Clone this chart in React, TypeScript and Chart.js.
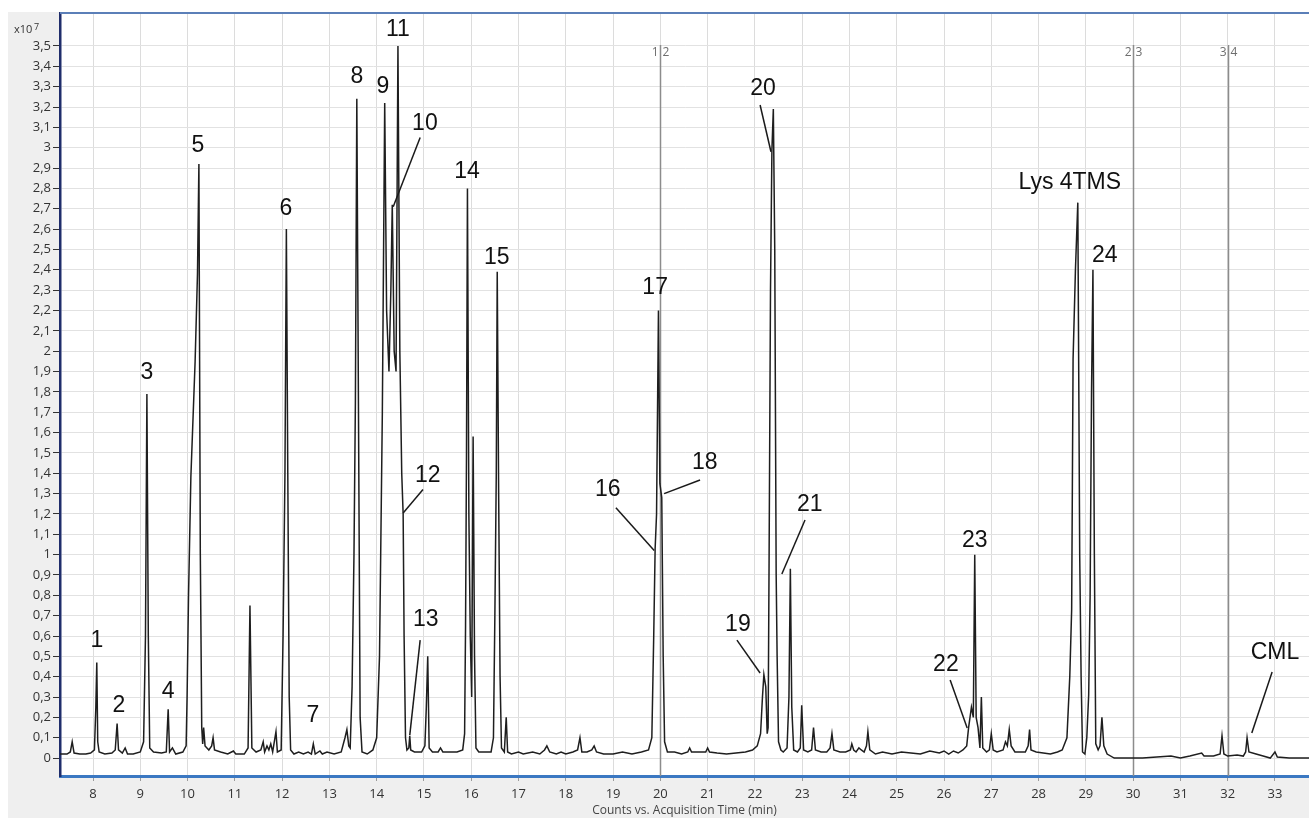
import React, { useEffect, useRef } from 'react';
import { Chart, registerables } from 'chart.js';

Chart.register(...registerables);

// Acquisition time (min)
const retentionTime = [
  7.30, 7.45, 7.52, 7.56, 7.60, 7.72, 7.85, 7.95, 8.03, 8.06, 8.08, 8.10, 8.13, 8.25, 8.40, 8.47, 8.51, 8.54, 8.62, 8.68,
  8.73, 8.85, 9.00, 9.07, 9.11, 9.14, 9.17, 9.20, 9.28, 9.45, 9.55, 9.59, 9.62, 9.68, 9.75, 9.90, 9.97, 9.99, 10.02, 10.07,
  10.16, 10.21, 10.24, 10.27, 10.30, 10.32, 10.34, 10.37, 10.45, 10.51, 10.54, 10.57, 10.70, 10.85, 10.93, 10.97, 11.02, 11.20, 11.28, 11.32,
  11.36, 11.45, 11.55, 11.60, 11.63, 11.68, 11.72, 11.76, 11.80, 11.87, 11.90, 11.98, 12.02, 12.06, 12.09, 12.12, 12.15, 12.18, 12.25, 12.35,
  12.45, 12.55, 12.62, 12.66, 12.70, 12.80, 12.85, 12.95, 13.10, 13.25, 13.33, 13.37, 13.41, 13.44, 13.48, 13.52, 13.55, 13.58, 13.62, 13.65,
  13.69, 13.80, 13.92, 14.00, 14.06, 14.12, 14.17, 14.21, 14.26, 14.30, 14.33, 14.37, 14.41, 14.45, 14.49, 14.53, 14.56, 14.58, 14.61, 14.64,
  14.68, 14.70, 14.72, 14.80, 14.95, 15.02, 15.05, 15.08, 15.11, 15.18, 15.30, 15.35, 15.40, 15.55, 15.70, 15.82, 15.86, 15.88, 15.90, 15.92,
  15.95, 15.98, 16.01, 16.04, 16.07, 16.10, 16.16, 16.30, 16.42, 16.47, 16.50, 16.53, 16.55, 16.58, 16.61, 16.64, 16.70, 16.74, 16.77, 16.85,
  17.00, 17.10, 17.30, 17.45, 17.55, 17.60, 17.66, 17.80, 17.90, 18.00, 18.15, 18.25, 18.30, 18.34, 18.45, 18.55, 18.60, 18.65, 18.80, 19.00,
  19.20, 19.40, 19.60, 19.75, 19.82, 19.86, 19.89, 19.92, 19.96, 19.99, 20.03, 20.06, 20.09, 20.15, 20.30, 20.45, 20.58, 20.62, 20.66, 20.80,
  20.96, 21.00, 21.04, 21.20, 21.40, 21.60, 21.80, 21.95, 22.05, 22.12, 22.16, 22.19, 22.23, 22.26, 22.28, 22.30, 22.33, 22.36, 22.39, 22.42,
  22.45, 22.47, 22.50, 22.55, 22.60, 22.68, 22.72, 22.75, 22.78, 22.82, 22.90, 22.96, 22.99, 23.03, 23.12, 23.20, 23.24, 23.28, 23.40, 23.52,
  23.59, 23.63, 23.67, 23.80, 23.92, 24.02, 24.05, 24.09, 24.14, 24.20, 24.25, 24.31, 24.36, 24.39, 24.43, 24.55, 24.70, 24.90, 25.10, 25.30,
  25.50, 25.70, 25.90, 26.00, 26.10, 26.20, 26.30, 26.40, 26.48, 26.52, 26.58, 26.62, 26.65, 26.68, 26.72, 26.76, 26.79, 26.82, 26.90, 26.96,
  27.00, 27.04, 27.12, 27.25, 27.30, 27.34, 27.38, 27.42, 27.50, 27.62, 27.72, 27.78, 27.81, 27.84, 27.95, 28.10, 28.25, 28.40, 28.50, 28.60,
  28.66, 28.70, 28.73, 28.78, 28.83, 28.87, 28.90, 28.93, 28.98, 29.02, 29.06, 29.09, 29.12, 29.15, 29.18, 29.21, 29.26, 29.30, 29.34, 29.38,
  29.45, 29.60, 29.90, 30.20, 30.50, 30.80, 31.00, 31.20, 31.45, 31.50, 31.70, 31.84, 31.88, 31.92, 32.00, 32.20, 32.33, 32.38, 32.41, 32.45,
  32.60, 32.75, 32.90, 33.00, 33.05, 33.30, 33.72,
];

// Counts (x10^7)
const signal = [
  0.02, 0.02, 0.03, 0.08, 0.025, 0.02, 0.02, 0.025, 0.04, 0.25, 0.47, 0.08, 0.03, 0.02, 0.025, 0.04, 0.17, 0.04, 0.025, 0.05,
  0.02, 0.02, 0.03, 0.08, 0.6, 1.79, 0.6, 0.05, 0.03, 0.025, 0.03, 0.24, 0.03, 0.05, 0.02, 0.03, 0.06, 0.3, 0.79, 1.38,
  1.95, 2.38, 2.92, 1.0, 0.15, 0.07, 0.15, 0.06, 0.04, 0.06, 0.1, 0.04, 0.03, 0.02, 0.03, 0.035, 0.02, 0.02, 0.05, 0.75,
  0.05, 0.03, 0.04, 0.08, 0.03, 0.06, 0.04, 0.07, 0.03, 0.13, 0.03, 0.04, 0.6, 1.4, 2.6, 1.4, 0.3, 0.04, 0.02, 0.03,
  0.02, 0.03, 0.02, 0.07, 0.02, 0.035, 0.02, 0.03, 0.02, 0.03, 0.1, 0.14, 0.06, 0.05, 0.35, 1.0, 1.75, 3.24, 1.5, 0.2,
  0.03, 0.02, 0.04, 0.1, 0.5, 1.7, 3.22, 2.2, 1.9, 2.3, 2.72, 2.0, 1.9, 3.5, 2.0, 1.4, 1.2, 0.6, 0.1, 0.04,
  0.05, 0.11, 0.04, 0.03, 0.03, 0.06, 0.25, 0.5, 0.05, 0.03, 0.03, 0.05, 0.03, 0.03, 0.03, 0.04, 0.12, 0.65, 1.5, 2.8,
  1.2, 0.6, 0.3, 1.58, 0.5, 0.05, 0.03, 0.03, 0.03, 0.1, 0.7, 1.4, 2.39, 1.3, 0.4, 0.05, 0.03, 0.2, 0.03, 0.02,
  0.03, 0.02, 0.03, 0.02, 0.04, 0.06, 0.03, 0.02, 0.03, 0.02, 0.03, 0.04, 0.1, 0.03, 0.03, 0.04, 0.06, 0.03, 0.02, 0.02,
  0.03, 0.02, 0.03, 0.04, 0.1, 0.6, 1.03, 1.2, 2.2, 1.35, 1.28, 0.5, 0.08, 0.03, 0.03, 0.02, 0.03, 0.05, 0.03, 0.03,
  0.03, 0.05, 0.03, 0.025, 0.02, 0.025, 0.03, 0.04, 0.06, 0.12, 0.3, 0.41, 0.35, 0.12, 0.15, 0.97, 2.3, 2.99, 3.19, 2.5,
  0.9, 0.5, 0.08, 0.04, 0.03, 0.05, 0.3, 0.93, 0.25, 0.04, 0.03, 0.05, 0.26, 0.04, 0.03, 0.04, 0.15, 0.04, 0.03, 0.03,
  0.05, 0.12, 0.04, 0.03, 0.03, 0.04, 0.07, 0.04, 0.03, 0.05, 0.04, 0.03, 0.06, 0.13, 0.04, 0.02, 0.03, 0.02, 0.03, 0.025,
  0.02, 0.035, 0.025, 0.035, 0.02, 0.035, 0.025, 0.04, 0.06, 0.15, 0.25, 0.2, 1.0, 0.2, 0.15, 0.05, 0.3, 0.05, 0.03, 0.04,
  0.12, 0.04, 0.03, 0.04, 0.08, 0.06, 0.14, 0.06, 0.03, 0.03, 0.03, 0.06, 0.14, 0.04, 0.03, 0.025, 0.02, 0.03, 0.04, 0.1,
  0.4, 0.73, 1.96, 2.4, 2.73, 1.0, 0.4, 0.03, 0.02, 0.1, 0.31, 0.79, 1.8, 2.4, 1.0, 0.07, 0.04, 0.06, 0.2, 0.06,
  0.02, 0.0, 0.0, 0.0, 0.005, 0.01, 0.0, 0.01, 0.025, 0.01, 0.01, 0.02, 0.11, 0.02, 0.01, 0.015, 0.01, 0.03, 0.1, 0.03,
  0.02, 0.01, 0.0, 0.03, 0.005, 0.0, 0.0,
];

// Peak annotations
const peakLabels = ['1', '2', '3', '4', '5', '6', '7', '8', '9', '10', '11', '12', '13', '14', '15', '16', '17', '18', '19', '20', '21', '22', '23', '24', 'Lys 4TMS', 'CML'];
const peakLabelTime = [8.08, 8.55, 9.14, 9.59, 10.22, 12.08, 12.65, 13.58, 14.13, 15.02, 14.45, 15.08, 15.04, 15.91, 16.54, 18.89, 19.89, 20.94, 21.64, 22.17, 23.16, 26.04, 26.65, 29.40, 28.66, 33.0];
const peakLabelSignal = [0.575, 0.256, 1.894, 0.325, 3.01, 2.70, 0.207, 3.35, 3.30, 3.12, 3.58, 1.39, 0.68, 2.88, 2.46, 1.32, 2.31, 1.45, 0.654, 3.29, 1.244, 0.457, 1.07, 2.47, 2.83, 0.52];

// Leader lines (label -> peak)
const leaderNames = ['10', '12', '13', '16', '18', '19', '20', '21', '22', 'CML'];
const leaderFromTime = [14.92, 14.98, 14.92, 19.06, 20.84, 21.62, 22.11, 23.06, 26.13, 32.94];
const leaderFromSignal = [3.05, 1.32, 0.58, 1.23, 1.367, 0.58, 3.21, 1.17, 0.384, 0.423];
const leaderToTime = [14.35, 14.56, 14.70, 19.87, 20.08, 22.11, 22.34, 22.57, 26.49, 32.51];
const leaderToSignal = [2.71, 1.205, 0.113, 1.02, 1.30, 0.418, 2.98, 0.905, 0.148, 0.123];

// Segment markers
const segmentTimes = [20, 30, 32];
const segmentLeft = ['1', '2', '3'];
const segmentRight = ['2', '3', '4'];

const xTickLabels = ['8', '9', '10', '11', '12', '13', '14', '15', '16', '17', '18', '19', '20', '21', '22', '23', '24', '25', '26', '27', '28', '29', '30', '31', '32', '33'];
const yTickLabels = ['0', '0,1', '0,2', '0,3', '0,4', '0,5', '0,6', '0,7', '0,8', '0,9', '1', '1,1', '1,2', '1,3', '1,4', '1,5', '1,6', '1,7', '1,8', '1,9', '2', '2,1', '2,2', '2,3', '2,4', '2,5', '2,6', '2,7', '2,8', '2,9', '3', '3,1', '3,2', '3,3', '3,4', '3,5'];

const X_MIN = 7.302;
const X_MAX = 33.72;
const Y_MIN = -0.088;
const Y_MAX = 3.667;

const toNum = (s: string) => parseFloat(s.replace(',', '.'));

const framePlugin = {
  id: 'frame',
  beforeDraw(chart: any) {
    const { ctx, chartArea, width, height } = chart;
    ctx.save();
    ctx.fillStyle = '#efefef';
    ctx.fillRect(0, 0, width, height);
    ctx.fillStyle = '#ffffff';
    ctx.fillRect(chartArea.left, chartArea.top, chartArea.right - chartArea.left, chartArea.bottom - chartArea.top);
    ctx.restore();
  },
  beforeDatasetsDraw(chart: any) {
    const { ctx, chartArea, scales } = chart;
    const xs = scales.x;
    const ys = scales.y;
    ctx.save();
    ctx.strokeStyle = '#8c8c8c';
    ctx.lineWidth = 1.5;
    ctx.fillStyle = '#6e6e6e';
    ctx.font = '12px "Open Sans", sans-serif';
    ctx.textBaseline = 'middle';
    const topY = ys.getPixelForValue(3.5) - 1;
    segmentTimes.forEach((t, i) => {
      const px = Math.round(xs.getPixelForValue(t)) + 0.5;
      ctx.beginPath();
      ctx.moveTo(px, topY);
      ctx.lineTo(px, chartArea.bottom);
      ctx.stroke();
      ctx.textAlign = 'right';
      ctx.fillText(segmentLeft[i], px - 2, topY + 8);
      ctx.textAlign = 'left';
      ctx.fillText(segmentRight[i], px + 2, topY + 8);
    });
    ctx.restore();
  },
  afterDraw(chart: any) {
    const { ctx, chartArea, scales } = chart;
    const xs = scales.x;
    const ys = scales.y;
    ctx.save();
    // top border
    ctx.strokeStyle = '#5b7fb8';
    ctx.lineWidth = 2;
    ctx.beginPath();
    ctx.moveTo(chartArea.left, chartArea.top + 1);
    ctx.lineTo(chartArea.right, chartArea.top + 1);
    ctx.stroke();
    // leader lines
    ctx.strokeStyle = '#1a1a1a';
    ctx.lineWidth = 1.5;
    leaderNames.forEach((_, i) => {
      ctx.beginPath();
      ctx.moveTo(xs.getPixelForValue(leaderFromTime[i]), ys.getPixelForValue(leaderFromSignal[i]));
      ctx.lineTo(xs.getPixelForValue(leaderToTime[i]), ys.getPixelForValue(leaderToSignal[i]));
      ctx.stroke();
    });
    // peak labels
    ctx.fillStyle = '#111111';
    ctx.font = '23px "Liberation Sans", Arial, sans-serif';
    ctx.textAlign = 'center';
    ctx.textBaseline = 'middle';
    peakLabels.forEach((lab, i) => {
      ctx.fillText(lab, xs.getPixelForValue(peakLabelTime[i]), ys.getPixelForValue(peakLabelSignal[i]));
    });
    // x10^7 multiplier
    ctx.fillStyle = '#333333';
    ctx.font = '11px "Open Sans", sans-serif';
    ctx.textAlign = 'left';
    ctx.fillText('x10', 6, 18);
    ctx.font = '9px "Open Sans", sans-serif';
    ctx.fillText('7', 26, 15);
    ctx.restore();
  },
};

export default function App() {
  const canvasRef = useRef<HTMLCanvasElement | null>(null);

  useEffect(() => {
    const canvas = canvasRef.current;
    if (!canvas) return;
    const points = retentionTime.map((t, i) => ({ x: t, y: signal[i] }));
    const chart = new Chart(canvas, {
      type: 'line',
      data: {
        datasets: [
          {
            data: points,
            borderColor: '#1e1e1e',
            borderWidth: 1.5,
            pointRadius: 0,
            tension: 0,
            fill: false,
          },
        ],
      },
      options: {
        animation: false,
        responsive: false,
        maintainAspectRatio: false,
        layout: { padding: 0 },
        plugins: {
          legend: { display: false },
          tooltip: { enabled: false },
          title: { display: false },
        },
        scales: {
          x: {
            type: 'linear',
            min: X_MIN,
            max: X_MAX,
            afterBuildTicks: (scale: any) => {
              scale.ticks = xTickLabels.map((l) => ({ value: toNum(l) }));
            },
            afterFit: (scale: any) => {
              scale.height = 42;
              scale.paddingLeft = 0;
              scale.paddingRight = 0;
            },
            ticks: {
              autoSkip: false,
              maxRotation: 0,
              padding: 5,
              color: '#333333',
              font: { family: '"Open Sans", sans-serif', size: 13 },
              callback: (v: any) => {
                const idx = xTickLabels.findIndex((l) => toNum(l) === Number(v));
                return idx >= 0 ? xTickLabels[idx] : '';
              },
            },
            grid: { color: '#dcdcdc', lineWidth: 1, tickColor: '#9a9a9a', tickLength: 5 },
            border: { color: '#3b78c2', width: 3 },
            title: {
              display: true,
              text: 'Counts vs. Acquisition Time (min)',
              color: '#444444',
              font: { family: '"Open Sans", sans-serif', size: 12 },
              padding: { top: 0, bottom: 0 },
            },
          },
          y: {
            type: 'linear',
            min: Y_MIN,
            max: Y_MAX,
            afterBuildTicks: (scale: any) => {
              scale.ticks = yTickLabels.map((l) => ({ value: toNum(l) }));
            },
            afterFit: (scale: any) => {
              scale.width = 52;
              scale.paddingTop = 0;
              scale.paddingBottom = 0;
            },
            ticks: {
              autoSkip: false,
              padding: 2,
              color: '#333333',
              font: { family: '"Open Sans", sans-serif', size: 13 },
              callback: (v: any) => {
                const idx = yTickLabels.findIndex((l) => Math.abs(toNum(l) - Number(v)) < 1e-6);
                return idx >= 0 ? yTickLabels[idx] : '';
              },
            },
            grid: { color: '#e2e2e2', lineWidth: 1, tickColor: '#333333', tickLength: 7 },
            border: { color: '#1f2d6b', width: 2.5 },
          },
        },
      },
      plugins: [framePlugin],
    });
    return () => chart.destroy();
  }, []);

  return (
    <div style={{ position: 'absolute', left: 8, top: 12, width: 1301, height: 806 }}>
      <canvas ref={canvasRef} width={1301} height={806} style={{ display: 'block', width: 1301, height: 806 }} />
    </div>
  );
}
